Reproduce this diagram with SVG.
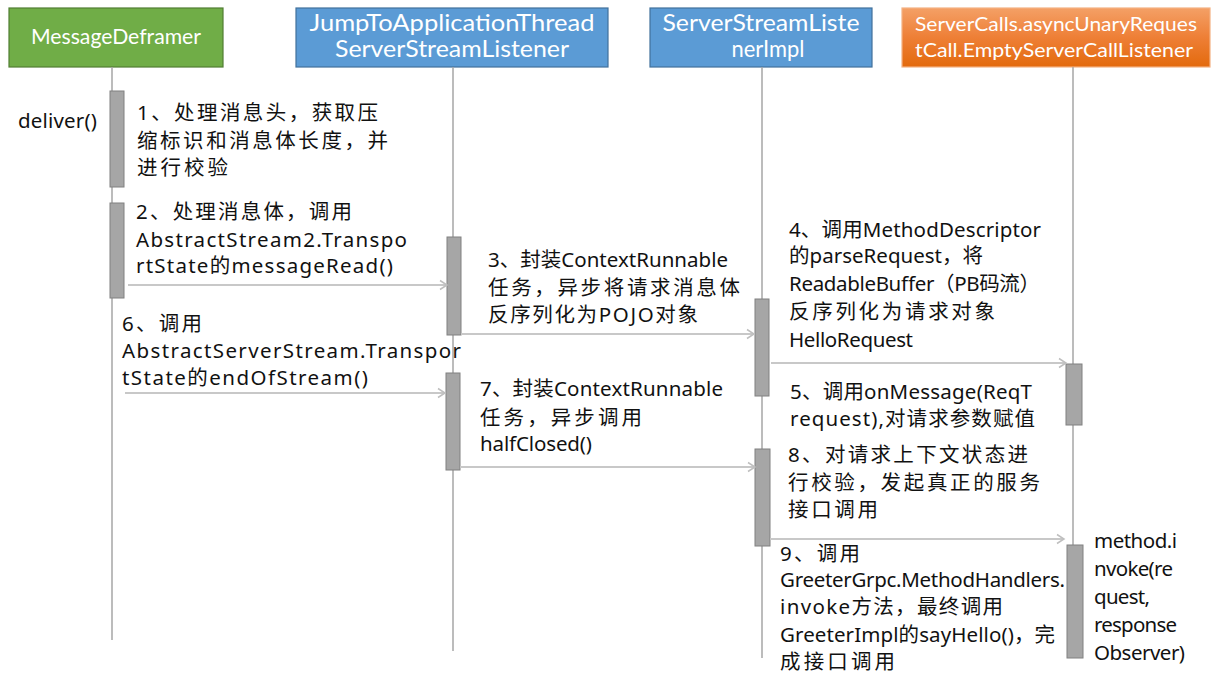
<svg xmlns="http://www.w3.org/2000/svg" width="1231" height="686" viewBox="0 0 1231 686">
<defs>
<linearGradient id="og" x1="0" y1="0" x2="0" y2="1">
<stop offset="0" stop-color="#F4A066"/>
<stop offset="0.5" stop-color="#EE7F36"/>
<stop offset="1" stop-color="#E36A0D"/>
</linearGradient>
<marker id="arr" markerWidth="12" markerHeight="12" refX="10" refY="6" orient="auto" markerUnits="userSpaceOnUse">
<path d="M3,1.5 L10,6 L3,10.5" fill="none" stroke="#BFBFBF" stroke-width="1.5"/>
</marker>
<style>
.hd{font-family:Lato,"Open Sans","Noto Sans CJK SC",sans-serif;fill:#fff;text-anchor:middle}
.t{font-family:"Noto Sans","Noto Sans CJK SC",sans-serif;font-size:20.5px;fill:#111}
.life{stroke:#A6A6A6;stroke-width:1.5}
.bar{fill:#A6A6A6;stroke:#808080;stroke-width:1}
.msg{stroke:#C8C8C8;stroke-width:2;fill:none;marker-end:url(#arr)}
</style>
</defs>
<rect width="1231" height="686" fill="#fff"/>

<g id="messageDeframer">
<rect x="9" y="8" width="214" height="59" fill="#70AD47" stroke="#507E32" stroke-width="1.2"/>
<text class="hd" x="116" y="44" font-size="21" textLength="170" lengthAdjust="spacingAndGlyphs">MessageDeframer</text>
<line class="life" x1="112" y1="67" x2="112" y2="640"/>
<rect class="bar" x="110" y="91" width="14" height="96"/>
<rect class="bar" x="110" y="203" width="14" height="95"/>
</g>

<g id="jumpToApplicationThread">
<rect x="296" y="8" width="312" height="59" fill="#5B9BD5" stroke="#41719C" stroke-width="1.2"/>
<text class="hd" x="452" y="31" font-size="23" textLength="285" lengthAdjust="spacingAndGlyphs">JumpToApplicationThread</text>
<text class="hd" x="452" y="57" font-size="23" textLength="234" lengthAdjust="spacingAndGlyphs">ServerStreamListener</text>
<line class="life" x1="453" y1="67" x2="453" y2="651"/>
<rect class="bar" x="447" y="237" width="14" height="98"/>
<rect class="bar" x="446" y="373" width="14" height="97"/>
</g>

<g id="serverStreamListenerImpl">
<rect x="650" y="8" width="222" height="59" fill="#5B9BD5" stroke="#41719C" stroke-width="1.2"/>
<text class="hd" x="761" y="31" font-size="23" textLength="197" lengthAdjust="spacingAndGlyphs">ServerStreamListe</text>
<text class="hd" x="768" y="57" font-size="23" textLength="73" lengthAdjust="spacingAndGlyphs">nerImpl</text>
<line class="life" x1="762" y1="67" x2="762" y2="658"/>
<rect class="bar" x="755" y="299" width="14" height="97"/>
<rect class="bar" x="755" y="449" width="15" height="97"/>
</g>

<g id="emptyServerCallListener">
<rect x="902" y="8" width="308" height="59" fill="url(#og)" stroke="#F4B183" stroke-width="1.2"/>
<text class="hd" x="1056" y="31" font-size="20" textLength="282" lengthAdjust="spacingAndGlyphs">ServerCalls.asyncUnaryReques</text>
<text class="hd" x="1054" y="57" font-size="20" textLength="278" lengthAdjust="spacingAndGlyphs">tCall.EmptyServerCallListener</text>
<line class="life" x1="1073" y1="67" x2="1073" y2="658"/>
<rect class="bar" x="1066" y="364" width="16" height="61"/>
<rect class="bar" x="1067" y="545" width="16" height="113"/>
</g>

<g id="connectors">
<line class="msg" x1="128" y1="285" x2="447" y2="285"/>
<line class="msg" x1="461" y1="334" x2="754" y2="334"/>
<line class="msg" x1="771" y1="363" x2="1066" y2="363"/>
<line class="msg" x1="125" y1="393" x2="445" y2="393"/>
<line class="msg" x1="460" y1="467" x2="755" y2="467"/>
<line class="msg" x1="770" y1="539" x2="1064" y2="539"/>
</g>

<g id="labels">
<text class="t" x="18" y="128" textLength="79">deliver()</text>

<text class="t" x="137" y="120" textLength="241">1、处理消息头，获取压</text>
<text class="t" x="137" y="148" textLength="251">缩标识和消息体长度，并</text>
<text class="t" x="137" y="175" textLength="91">进行校验</text>

<text class="t" x="136" y="219" textLength="216">2、处理消息体，调用</text>
<text class="t" x="136" y="247" textLength="271">AbstractStream2.Transpo</text>
<text class="t" x="136" y="273" textLength="257">rtState的messageRead()</text>

<text class="t" x="488" y="267" textLength="240">3、封装ContextRunnable</text>
<text class="t" x="488" y="295" textLength="252">任务，异步将请求消息体</text>
<text class="t" x="488" y="322" textLength="210">反序列化为POJO对象</text>

<text class="t" x="789" y="237" textLength="252">4、调用MethodDescriptor</text>
<text class="t" x="789" y="263" textLength="194">的parseRequest，将</text>
<text class="t" x="789" y="291" textLength="251">ReadableBuffer（PB码流）</text>
<text class="t" x="789" y="319" textLength="206">反序列化为请求对象</text>
<text class="t" x="789" y="347" textLength="124">HelloRequest</text>

<text class="t" x="790" y="399" textLength="242">5、调用onMessage(ReqT</text>
<text class="t" x="790" y="426" textLength="245">request),对请求参数赋值</text>

<text class="t" x="122" y="331" textLength="80">6、调用</text>
<text class="t" x="122" y="358" textLength="339">AbstractServerStream.Transpor</text>
<text class="t" x="122" y="385" textLength="246">tState的endOfStream()</text>

<text class="t" x="480" y="396" textLength="243">7、封装ContextRunnable</text>
<text class="t" x="480" y="425" textLength="162">任务，异步调用</text>
<text class="t" x="480" y="451" textLength="112">halfClosed()</text>

<text class="t" x="788" y="462" textLength="240">8、对请求上下文状态进</text>
<text class="t" x="788" y="490" textLength="252">行校验，发起真正的服务</text>
<text class="t" x="788" y="517" textLength="90">接口调用</text>

<text class="t" x="780" y="561" textLength="80">9、调用</text>
<text class="t" x="780" y="587" textLength="285">GreeterGrpc.MethodHandlers.</text>
<text class="t" x="780" y="614" textLength="223">invoke方法，最终调用</text>
<text class="t" x="780" y="642" textLength="275">GreeterImpl的sayHello()，完</text>
<text class="t" x="780" y="669" textLength="115">成接口调用</text>

<text class="t" x="1094" y="548" textLength="83">method.i</text>
<text class="t" x="1094" y="576" textLength="79">nvoke(re</text>
<text class="t" x="1094" y="604" textLength="56">quest,</text>
<text class="t" x="1094" y="632" textLength="83">response</text>
<text class="t" x="1094" y="660" textLength="91">Observer)</text>
</g>
</svg>
